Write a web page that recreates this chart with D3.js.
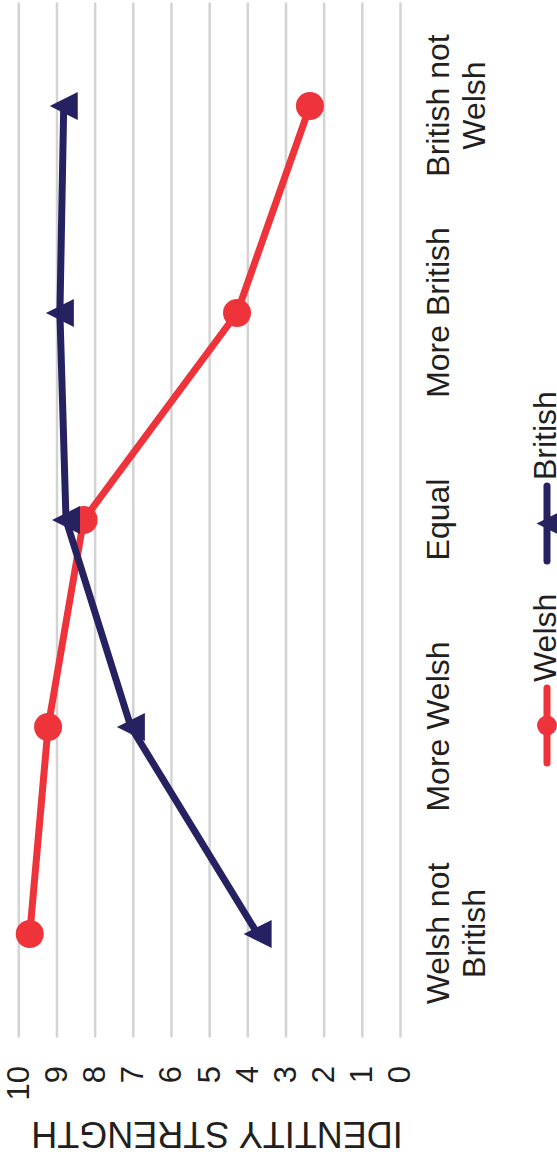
<!DOCTYPE html>
<html>
<head>
<meta charset="utf-8">
<script src="https://cdn.jsdelivr.net/npm/d3@7"></script>
<style>
  html, body { margin: 0; padding: 0; background: #fff; }
  svg { display: block; }
  text { font-family: "Liberation Sans", Arial, sans-serif; fill: #231f20; }
</style>
</head>
<body>
<script>
// Identity strength by national identity group
const categories = ["Welsh not British", "More Welsh", "Equal", "More British", "British not Welsh"];
const welshValues = [9.7, 9.22, 8.29, 4.27, 2.36];
const britishValues = [3.73, 7.05, 8.75, 8.91, 8.81];
const valueTicks = [0, 1, 2, 3, 4, 5, 6, 7, 8, 9, 10];
const seriesNames = ["Welsh", "British"];
const axisTitle = "IDENTITY STRENGTH";

const W = 557, H = 1158;
// The chart is laid out in a landscape frame and turned a quarter turn
const FW = H, FH = W;

const svg = d3.select("body").append("svg")
  .attr("width", W).attr("height", H);

const frame = svg.append("g")
  .attr("transform", `translate(0,${H}) rotate(-90)`);

const plot = { left: 120.5, right: 1155.5, top: 18.3, bottom: 400 };

const x = d3.scalePoint()
  .domain(categories)
  .range([plot.left, plot.right])
  .padding(0.5);

const y = d3.scaleLinear()
  .domain([0, 10])
  .range([plot.bottom, plot.top]);

// value axis with gridlines
const yAxis = frame.append("g")
  .attr("transform", `translate(${plot.left},0)`)
  .call(d3.axisLeft(y)
    .tickValues(valueTicks)
    .tickSizeInner(-(plot.right - plot.left))
    .tickSizeOuter(0)
    .tickPadding(28.5));
yAxis.select(".domain").remove();
yAxis.selectAll(".tick line")
  .attr("stroke", "#d3d3d3")
  .attr("stroke-width", 2.5);
yAxis.selectAll(".tick text")
  .style("font-size", "31px")
  .attr("fill", "#231f20");

// category axis
const xAxis = frame.append("g")
  .attr("transform", `translate(0,${plot.bottom})`)
  .call(d3.axisBottom(x).tickSize(0));
xAxis.select(".domain").remove();
xAxis.selectAll(".tick text")
  .style("font-size", "32px")
  .attr("fill", "#231f20")
  .attr("y", null)
  .attr("dy", null)
  .each(function (d) {
    const t = d3.select(this);
    t.text(null);
    const words = d.split(" ");
    const lines = [];
    let cur = [];
    const probe = t.append("tspan");
    words.forEach(w => {
      const trial = cur.concat([w]).join(" ");
      probe.text(trial);
      if (cur.length && probe.node().getComputedTextLength() > 200) {
        lines.push(cur.join(" "));
        cur = [w];
      } else {
        cur.push(w);
      }
    });
    lines.push(cur.join(" "));
    probe.remove();
    lines.forEach((ln, i) => {
      t.append("tspan").attr("x", 0).attr("y", 49 + i * 36).text(ln);
    });
  });

// axis title
frame.append("text")
  .attr("transform", `translate(36,217) rotate(-90)`)
  .attr("text-anchor", "middle")
  .style("font-size", "36px")
  .text(axisTitle);

const colors = { Welsh: "#ee333b", British: "#262261" };
const triangle = s => `M0,${-s}L${s},${s}L${-s},${s}Z`;

const line = d3.line()
  .x((d, i) => x(categories[i]))
  .y(d => y(d));

function drawSeries(values, name, marker) {
  const g = frame.append("g");
  g.append("path")
    .datum(values)
    .attr("d", line)
    .attr("fill", "none")
    .attr("stroke", colors[name])
    .attr("stroke-width", 7)
    .attr("stroke-linejoin", "round")
    .attr("stroke-linecap", "round");
  const pts = g.selectAll(".pt").data(values).join("g")
    .attr("transform", (d, i) => `translate(${x(categories[i])},${y(d)})`);
  if (marker === "circle") {
    pts.append("circle").attr("r", 14).attr("fill", colors[name]);
  } else {
    pts.append("path").attr("d", triangle(14)).attr("fill", colors[name]);
  }
}

drawSeries(welshValues, "Welsh", "circle");
drawSeries(britishValues, "British", "triangle");

// legend
const legendY = 547;
const legendItems = [
  { name: seriesNames[0], x0: 395, marker: "circle" },
  { name: seriesNames[1], x0: 597, marker: "triangle" }
];
legendItems.forEach(it => {
  const g = frame.append("g");
  g.append("line")
    .attr("x1", it.x0).attr("x2", it.x0 + 75)
    .attr("y1", legendY).attr("y2", legendY)
    .attr("stroke", colors[it.name])
    .attr("stroke-width", 7)
    .attr("stroke-linecap", "round");
  const m = g.append("g").attr("transform", `translate(${it.x0 + 37.5},${legendY})`);
  if (it.marker === "circle") {
    m.append("circle").attr("r", 10).attr("fill", colors[it.name]);
  } else {
    m.append("path").attr("d", triangle(10.5)).attr("fill", colors[it.name]);
  }
  g.append("text")
    .attr("x", it.x0 + 81)
    .attr("y", 556)
    .style("font-size", "32px")
    .text(it.name);
});
</script>
</body>
</html>
